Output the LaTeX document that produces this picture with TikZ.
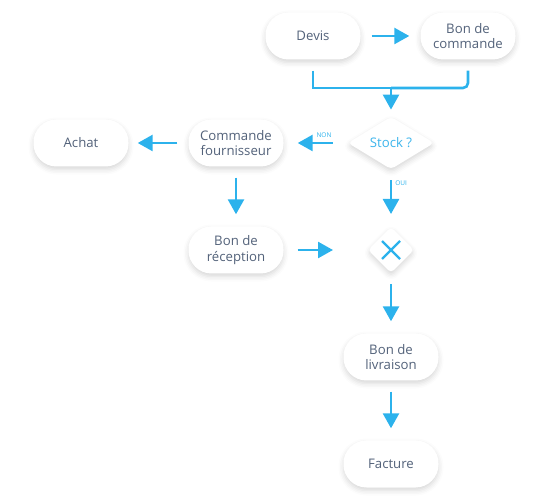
\documentclass[tikz,border=0pt]{standalone}
\usepackage{fontspec}
\setmainfont{Open Sans}
\usetikzlibrary{shapes.geometric,arrows.meta,shadows.blur}
\definecolor{arrblue}{HTML}{2CB2EC}
\definecolor{txtgrey}{HTML}{53627A}
\definecolor{stockblue}{HTML}{3DB5EC}
\tikzset{
  pill/.style={rectangle, rounded corners=23pt, minimum width=95pt, minimum height=47pt,
    fill=white, align=center, text=txtgrey, font=\fontsize{13.2}{15.5}\selectfont, inner sep=0pt,
    blur shadow={shadow xshift=0pt, shadow yshift=-3pt, shadow blur radius=5pt, shadow opacity=16}},
  dia/.style={diamond, fill=white, inner sep=0pt, rounded corners=4pt,
    blur shadow={shadow xshift=0pt, shadow yshift=-3pt, shadow blur radius=5pt, shadow opacity=16}},
  arr/.style={draw=arrblue, line width=2.6pt, -{Triangle[length=15pt,width=16pt]}},
  seg/.style={draw=arrblue, line width=2.6pt},
  lbl/.style={text=arrblue, font=\fontsize{6.5}{7}\selectfont, inner sep=0pt}
}
\begin{document}
\begin{tikzpicture}[x=1pt,y=1pt]
\useasboundingbox (0,0) rectangle (550,-500);
\node[pill] (devis) at (313,-36) {Devis};
\node[pill] (bdc) at (468,-36) {Bon de\\commande};
\node[dia, minimum width=86pt, minimum height=46pt, text=stockblue, font=\fontsize{13.2}{15}\selectfont] (stock) at (391,-143) {Stock ?};
\node[pill] (cf) at (236,-143) {Commande\\fournisseur};
\node[pill] (achat) at (81,-143) {Achat};
\node[pill] (bdr) at (236,-250) {Bon de\\réception};
\node[dia, minimum width=46pt, minimum height=46pt] (x) at (391,-250) {};
\node[pill] (bdl) at (391,-357) {Bon de\\livraison};
\node[pill] (fact) at (391,-464) {Facture};
\coordinate (mj) at (391,-88);
\draw[arrblue, line width=2.4pt] (x.center)++(-9,-9) -- ++(18,18) (x.center)++(-9,9) -- ++(18,-18);
\draw[arr] ([xshift=11pt]devis.east) -- ([xshift=-11pt]bdc.west);
\draw[seg] ([yshift=-11pt]devis.south) |- (mj);
\draw[seg, rounded corners=5pt] (mj) -| ([yshift=-11pt]bdc.south);
\draw[arr] (mj) -- ([yshift=7pt]stock.north);
\draw[arr] ([xshift=-15pt]stock.west) -- ([xshift=14pt]cf.east) node[pos=0.25, above=4pt, lbl] {NON};
\draw[arr] ([xshift=-11pt]cf.west) -- ([xshift=9pt]achat.east);
\draw[arr] ([yshift=-11pt]cf.south) -- ([yshift=12pt]bdr.north);
\draw[arr] ([xshift=14pt]bdr.east) -- ([xshift=-58pt]x.center);
\draw[arr] ([yshift=-11pt]stock.south) -- ([yshift=36pt]x.center) node[pos=0.08, right=3pt, lbl] {OUI};
\draw[arr] ([yshift=-34pt]x.center) -- ([yshift=12pt]bdl.north);
\draw[arr] ([yshift=-11pt]bdl.south) -- ([yshift=12pt]fact.north);
\end{tikzpicture}
\end{document}
